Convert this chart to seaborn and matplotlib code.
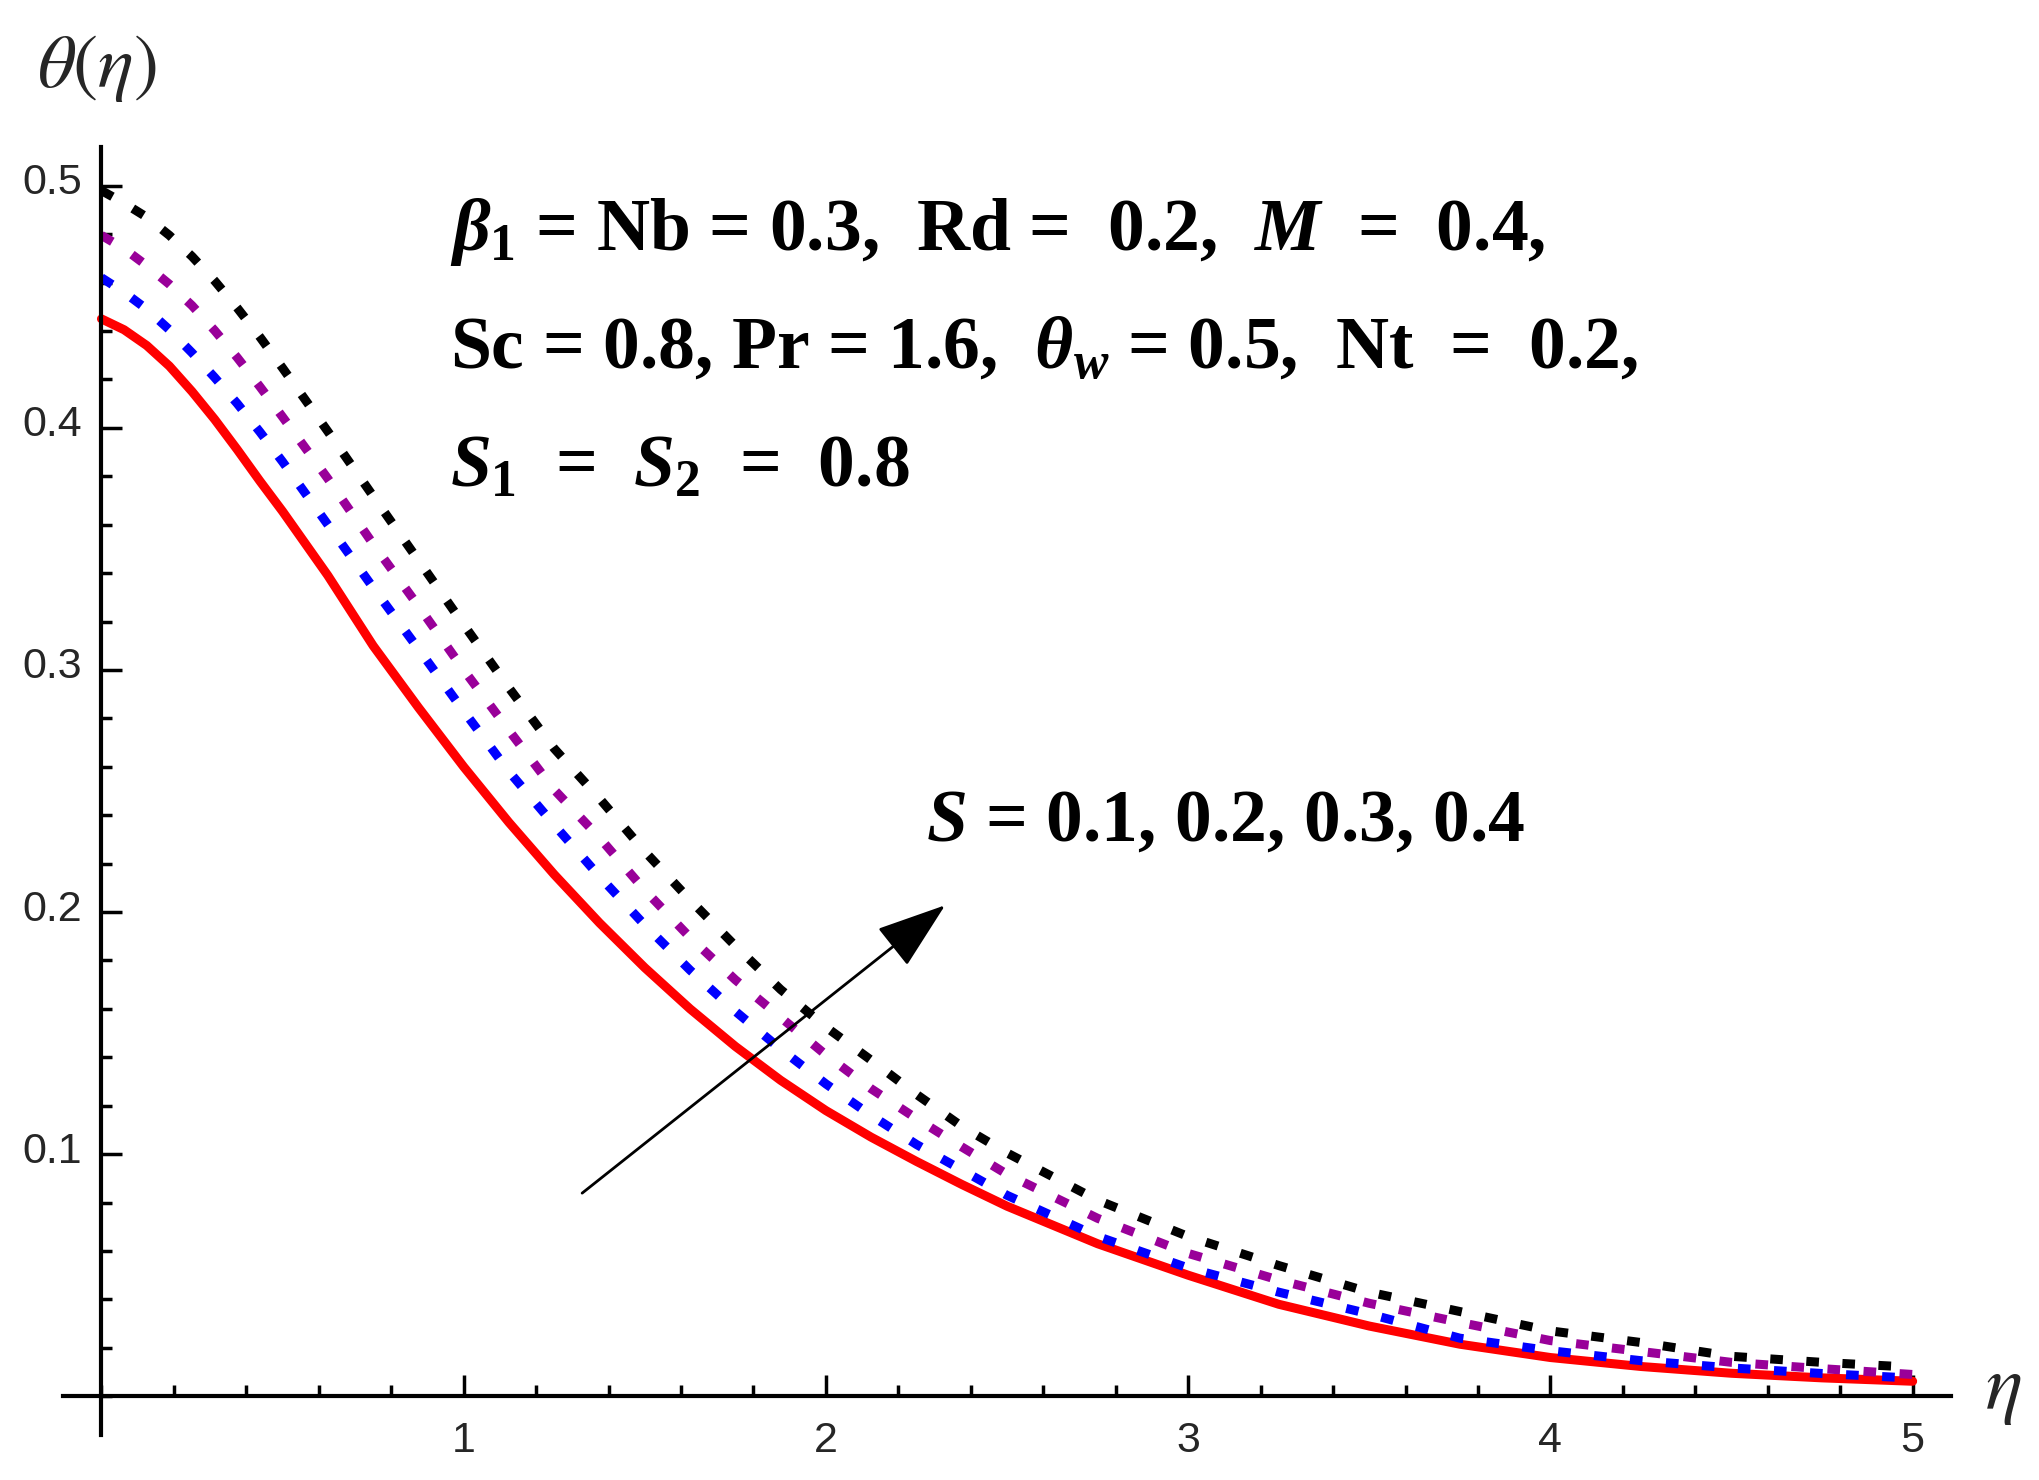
import matplotlib
matplotlib.use("Agg")
import matplotlib.pyplot as plt
from matplotlib.ticker import FixedLocator, MultipleLocator
from matplotlib.transforms import ScaledTranslation
import seaborn as sns

# values
eta = [0.0, 0.0625, 0.125, 0.1875, 0.25, 0.3125, 0.375, 0.4375, 0.5,
       0.625, 0.75, 0.875, 1.0, 1.125, 1.25, 1.375, 1.5, 1.625, 1.75, 1.875,
       2.0, 2.125, 2.25, 2.375, 2.5, 2.75, 3.0, 3.25, 3.5, 3.75, 4.0, 4.25, 4.5, 4.75, 5.0]
theta_s01 = [0.445, 0.4405, 0.434, 0.4255, 0.415, 0.4035, 0.391, 0.378, 0.3655,
             0.339, 0.310, 0.2845, 0.260, 0.237, 0.2155, 0.1955, 0.177, 0.160, 0.1445, 0.1305,
             0.118, 0.107, 0.097, 0.0875, 0.0785, 0.063, 0.050, 0.038, 0.029, 0.0215, 0.016,
             0.0123, 0.0095, 0.0076, 0.0062]
theta_s02 = [0.462, 0.456, 0.449, 0.4405, 0.431, 0.4208, 0.410, 0.3983, 0.386,
             0.360, 0.334, 0.3087, 0.283, 0.258, 0.236, 0.2147, 0.1946, 0.176, 0.159, 0.1434,
             0.129, 0.116, 0.104, 0.0935, 0.083, 0.066, 0.053, 0.043, 0.034, 0.024, 0.0188,
             0.0147, 0.0117, 0.0094, 0.0075]
theta_s03 = [0.4795, 0.474, 0.467, 0.4593, 0.4505, 0.4402, 0.429, 0.417, 0.4045,
             0.379, 0.352, 0.3264, 0.300, 0.275, 0.2505, 0.2307, 0.209, 0.1895, 0.172, 0.1565,
             0.141, 0.127, 0.1147, 0.103, 0.0917, 0.0735, 0.059, 0.048, 0.0384, 0.0305, 0.023,
             0.0185, 0.014, 0.0114, 0.009]
theta_s04 = [0.498, 0.4928, 0.487, 0.4795, 0.4708, 0.4607, 0.4495, 0.4375, 0.4247,
             0.3985, 0.3718, 0.3453, 0.3187, 0.2926, 0.2675, 0.2469, 0.225, 0.205, 0.186, 0.168,
             0.1525, 0.1388, 0.1247, 0.1115, 0.1005, 0.081, 0.066, 0.054, 0.043, 0.035, 0.027,
             0.0222, 0.0165, 0.0140, 0.0120]

curves = [theta_s01, theta_s02, theta_s03, theta_s04]
colors = ["#ff0000", "#0000ff", "#990099", "#000000"]
styles = ["-", (0, (1.4, 2.6)), (0, (1.4, 2.6)), (0, (1.4, 2.6))]

x_ticks = [1, 2, 3, 4, 5]
y_ticks = [0.1, 0.2, 0.3, 0.4, 0.5]

sns.set_style("white")
plt.rcParams["font.family"] = ["Liberation Serif", "DejaVu Sans"]
plt.rcParams["mathtext.fontset"] = "custom"
plt.rcParams["mathtext.rm"] = "Liberation Serif:bold"
plt.rcParams["mathtext.bf"] = "Liberation Serif:bold"
plt.rcParams["mathtext.it"] = "Liberation Serif:italic:bold"

fig = plt.figure(figsize=(20.4, 14.8), dpi=100)
ax = fig.add_axes([0.0309, 0.0304, 0.9255, 0.8703])

for y, c, ls in zip(curves, colors, styles):
    sns.lineplot(x=eta, y=y, ax=ax, color=c, lw=6.5, linestyle=ls)

ax.set_xlim(-0.106, 5.106)
ax.set_ylim(-0.016, 0.516)
ax.set_xlabel("")
ax.set_ylabel("")

# Mathematica style axes crossing at the origin
for s in ["top", "right"]:
    ax.spines[s].set_visible(False)
ax.spines["left"].set_position(("data", 0))
ax.spines["bottom"].set_position(("data", 0))
for s in ["left", "bottom"]:
    ax.spines[s].set_linewidth(3)
    ax.spines[s].set_color("black")

ax.xaxis.set_major_locator(FixedLocator(x_ticks))
ax.xaxis.set_minor_locator(MultipleLocator(0.2))
ax.yaxis.set_major_locator(FixedLocator(y_ticks))
ax.yaxis.set_minor_locator(MultipleLocator(0.02))
ax.set_xticklabels([str(t) for t in x_ticks])
ax.set_yticklabels([f"{t:.1f}" for t in y_ticks])
ax.tick_params(which="both", bottom=True, left=True, top=False, right=False)
ax.tick_params(which="major", direction="in", length=15, width=2.5, color="black")
ax.tick_params(which="minor", direction="in", length=8, width=2.5, color="black")
ax.tick_params(axis="x", which="major", pad=18)
ax.tick_params(axis="y", which="major", pad=14)
for lab in ax.get_xticklabels() + ax.get_yticklabels():
    lab.set_family("Liberation Sans")
    lab.set_fontsize(31)
for lab in ax.get_yticklabels():
    lab.set_transform(lab.get_transform() + ScaledTranslation(0, 5 / 72, fig.dpi_scale_trans))

txt = dict(fontsize=53, fontweight="bold", color="black", ha="left", va="baseline")
ax.text(0.962, 0.4734, r"$\beta_1$ = Nb = 0.3,  Rd =  0.2,  $M$  =  0.4,", **txt)
ax.text(0.962, 0.425, r"Sc = 0.8, Pr = 1.6,  $\theta_w$ = 0.5,  Nt  =  0.2,", **txt)
ax.text(0.962, 0.3755, r"$S_1$  =  $S_2$  =  0.8", **txt)
ax.text(2.276, 0.2297, r"$S$ = 0.1, 0.2, 0.3, 0.4", **txt)

ax.annotate("", xy=(2.329, 0.2028), xytext=(1.327, 0.0839),
            arrowprops=dict(arrowstyle="-|>,head_length=1.1,head_width=0.38",
                            mutation_scale=40, color="black", lw=2.0,
                            shrinkA=0, shrinkB=0))

fig.text(0.0475, 0.954, r"$\theta(\eta)$", math_fontfamily="stix", fontsize=54,
         ha="center", va="center")
fig.text(0.982, 0.060, r"$\eta$", math_fontfamily="stix", fontsize=56,
         ha="center", va="center")

fig.savefig("out.png", dpi=100)
